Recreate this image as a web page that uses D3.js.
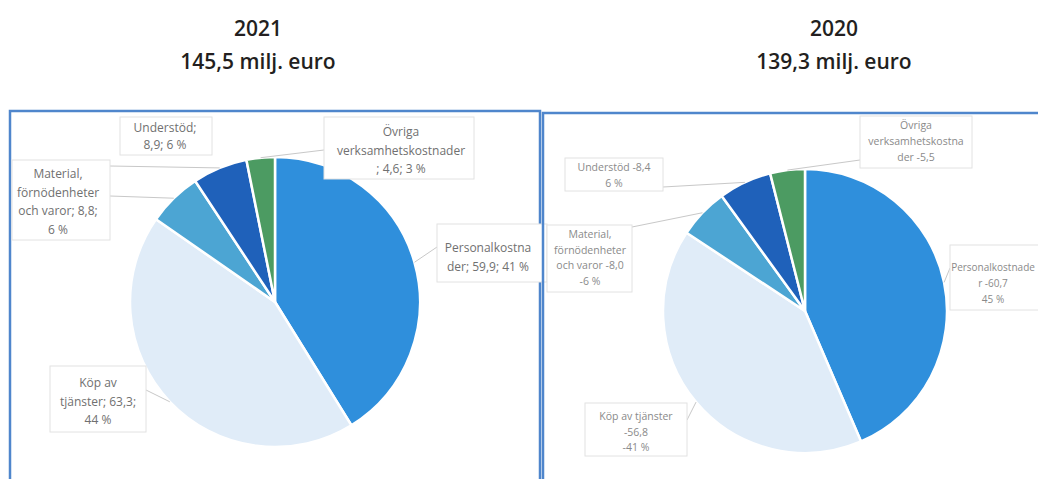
<!DOCTYPE html>
<html>
<head>
<meta charset="utf-8">
<script src="https://cdn.jsdelivr.net/npm/d3@7"></script>
<style>
  body { margin: 0; background: #fff; }
  svg { display: block; }
</style>
</head>
<body>
<script>
// cost categories in pie order (clockwise from 12 o'clock)
const categories = ['Personalkostnader', 'Köp av tjänster', 'Material, förnödenheter och varor', 'Understöd', 'Övriga verksamhetskostnader'];
const values2021 = [59.9, 63.3, 8.8, 8.9, 4.6];
const values2020 = [60.7, 56.8, 8.0, 8.4, 5.5];

const titles2021 = ['2021', '145,5 milj. euro'];
const titles2020 = ['2020', '139,3 milj. euro'];

// label texts as printed (line breaks as in the picture)
const labels2021 = [
  ['Personalkostna', 'der;  59,9; 41 %'],
  ['Köp av', 'tjänster;  63,3;', '44 %'],
  ['Material,', 'förnödenheter', 'och varor;  8,8;', '6 %'],
  ['Understöd;', '8,9; 6 %'],
  ['Övriga', 'verksamhetskostnader', '; 4,6; 3 %']
];
const labels2020 = [
  ['Personalkostnade', 'r -60,7', '45 %'],
  ['Köp av tjänster', '-56,8', '-41 %'],
  ['Material,', 'förnödenheter', 'och varor -8,0', '-6 %'],
  ['Understöd -8,4', '6 %'],
  ['Övriga', 'verksamhetskostna', 'der -5,5']
];

const colors = ['#2f8fdc', '#e0ecf8', '#4ca5d3', '#1f61ba', '#4c9b62'];

const width = 1038;
const height = 479;

const svg = d3.select('body')
  .append('svg')
  .attr('width', width)
  .attr('height', height);

// label boxes: box rect, text centre/baseline/line gap, leader anchor
const layout2021 = {
  cx: 275, cy: 302, r: 145, fontSize: 12, color: '#707070',
  frame: { x: 10, y: 111, w: 530, h: 380 },
  title: { x: 258, y1: 36, y2: 69 },
  boxes: [
    { x: 437, y: 224, w: 110, h: 58, tx: 488, ty: 252, gap: 19, ax: 437, ay: 247 },
    { x: 50, y: 366, w: 96, h: 66, tx: 98, ty: 387, gap: 18.5, ax: 146, ay: 390 },
    { x: 12, y: 160, w: 98, h: 80, tx: 58, ty: 178, gap: 18.5, ax: 110, ay: 196 },
    { x: 120, y: 117, w: 92, h: 38, tx: 165, ty: 132, gap: 17, ax: 110, ay: 166 },
    { x: 324, y: 117, w: 150, h: 62, tx: 401, ty: 136, gap: 18.5, ax: 324, ay: 150 }
  ]
};
const layout2020 = {
  cx: 805, cy: 311, r: 142, fontSize: 10.5, color: '#8a8a8a',
  frame: { x: 543, y: 113, w: 520, h: 380 },
  title: { x: 834, y1: 36, y2: 69 },
  boxes: [
    { x: 950, y: 245, w: 100, h: 65, tx: 993, ty: 271, gap: 16, ax: 950, ay: 268, fs: 10 },
    { x: 585, y: 403, w: 102, h: 53, tx: 636, ty: 420, gap: 15.5, ax: 687, ay: 420 },
    { x: 547, y: 225, w: 85, h: 67, tx: 590, ty: 238, gap: 15.5, ax: 632, ay: 227 },
    { x: 565, y: 158, w: 98, h: 33, tx: 614, ty: 171, gap: 15.5, ax: 663, ay: 187 },
    { x: 860, y: 116, w: 112, h: 52, tx: 916, ty: 129, gap: 16, ax: 860, ay: 160 }
  ]
};

function drawPanel(values, labels, titles, lay) {
  const g = svg.append('g');

  g.append('rect')
    .attr('x', lay.frame.x)
    .attr('y', lay.frame.y)
    .attr('width', lay.frame.w)
    .attr('height', lay.frame.h)
    .attr('fill', 'none')
    .attr('stroke', '#4f86cc')
    .attr('stroke-width', 2.5);

  g.selectAll('.title')
    .data(titles)
    .enter()
    .append('text')
    .attr('class', 'title')
    .attr('x', lay.title.x)
    .attr('y', (d, i) => (i === 0 ? lay.title.y1 : lay.title.y2))
    .attr('text-anchor', 'middle')
    .attr('font-family', 'Open Sans, sans-serif')
    .attr('font-weight', 600)
    .attr('font-size', 21)
    .attr('fill', '#231f20')
    .text(d => d);

  const pie = d3.pie().sort(null).value(d => d);
  const arcs = pie(values);
  const arc = d3.arc().innerRadius(0).outerRadius(lay.r);
  const edge = d3.arc().innerRadius(lay.r).outerRadius(lay.r);

  const pg = g.append('g').attr('transform', `translate(${lay.cx},${lay.cy})`);

  pg.selectAll('path')
    .data(arcs)
    .enter()
    .append('path')
    .attr('d', arc)
    .attr('fill', (d, i) => colors[i])
    .attr('stroke', '#fff')
    .attr('stroke-width', 2.5);

  // leader lines
  g.selectAll('.leader')
    .data(arcs)
    .enter()
    .append('line')
    .attr('class', 'leader')
    .attr('x1', (d, i) => lay.boxes[i].ax)
    .attr('y1', (d, i) => lay.boxes[i].ay)
    .attr('x2', d => lay.cx + edge.centroid(d)[0])
    .attr('y2', d => lay.cy + edge.centroid(d)[1])
    .attr('stroke', '#c8c8c8')
    .attr('stroke-width', 1);

  // label boxes
  const lg = g.selectAll('.lbl')
    .data(labels)
    .enter()
    .append('g')
    .attr('class', 'lbl');

  lg.append('rect')
    .attr('x', (d, i) => lay.boxes[i].x)
    .attr('y', (d, i) => lay.boxes[i].y)
    .attr('width', (d, i) => lay.boxes[i].w)
    .attr('height', (d, i) => lay.boxes[i].h)
    .attr('fill', '#fff')
    .attr('stroke', '#e2e2e2')
    .attr('stroke-width', 1);

  lg.each(function(lines, i) {
    const b = lay.boxes[i];
    d3.select(this)
      .selectAll('text')
      .data(lines)
      .enter()
      .append('text')
      .attr('x', b.tx)
      .attr('y', (d, j) => b.ty + j * b.gap)
      .attr('text-anchor', 'middle')
      .attr('font-family', 'Open Sans, sans-serif')
      .attr('font-size', b.fs || lay.fontSize)
      .attr('fill', lay.color)
      .text(d => d);
  });
}

drawPanel(values2021, labels2021, titles2021, layout2021);
drawPanel(values2020, labels2020, titles2020, layout2020);
</script>
</body>
</html>
